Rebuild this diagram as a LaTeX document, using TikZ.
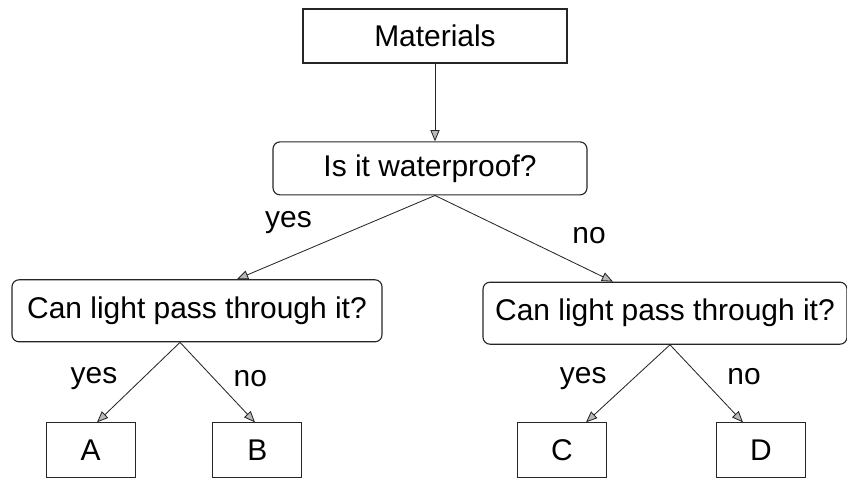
\documentclass[tikz,border=0pt]{standalone}
\usepackage{fontspec}
\setmainfont{Liberation Sans}
\usepackage{tikz}
\usetikzlibrary{arrows.meta,positioning}

\begin{document}
\begin{tikzpicture}[
    box/.style={draw=black!85, line width=0.8pt, inner sep=0pt, align=center,
        font=\fontsize{21.3}{25}\selectfont},
    question/.style={box, rounded corners=5pt, minimum height=1.55cm},
    leaf/.style={box, minimum width=2.225cm, minimum height=1.375cm},
    lbl/.style={inner sep=0pt, text=black, font=\fontsize{21.3}{25}\selectfont},
    arr/.style={->, >={Triangle[length=8pt, width=6.5pt, fill=gray!55]}, line width=0.6pt, color=black!85}]

    \useasboundingbox (0,0) rectangle (21.175,-12);

    % Boxes
    \node[box, minimum width=6.6cm, minimum height=1.35cm] (mat) at (10.875,-0.9) {Materials};
    \node[question, minimum width=7.85cm, minimum height=1.325cm] (wp) [below of=mat, node distance=3.31cm, xshift=-0.125cm] {Is it waterproof?};
    \node[question, minimum width=9.25cm] (qL) [below of=wp, node distance=3.56cm, xshift=-5.825cm] {Can light pass through it?};
    \node[question, minimum width=9.1cm] (qR) [below of=wp, node distance=3.62cm, xshift=5.875cm] {Can light pass through it?};
    \node[leaf] (A) [below of=qL, node distance=3.49cm, xshift=-2.66cm] {A};
    \node[leaf] (B) [below of=qL, node distance=3.49cm, xshift=1.51cm] {B};
    \node[leaf] (C) [below of=qR, node distance=3.43cm, xshift=-2.575cm] {C};
    \node[leaf] (D) [below of=qR, node distance=3.43cm, xshift=2.4cm] {D};

    % Arrows
    \draw[arr] (mat) -- (mat |- wp.north);
    \path[arr]
        % waterproof?
        ([xshift=.125cm]wp.south) edge node[lbl, pos=.62, anchor=south east, yshift=.325cm] {yes} ([xshift=1cm]qL.north)
        ([xshift=.125cm]wp.south) edge node[lbl, pos=.77, anchor=south west, yshift=.45cm] {no} ([xshift=-1.3cm]qR.north)
        % left question
        ([xshift=-.425cm]qL.south) edge node[lbl, pos=.75, anchor=south east, yshift=.3cm] {yes} ([xshift=.16cm]A.north)
        ([xshift=-.425cm]qL.south) edge node[lbl, pos=.71, anchor=south west, yshift=.3cm] {no} ([xshift=-.06cm]B.north)
        % right question
        ([xshift=.125cm]qR.south) edge node[lbl, pos=.75, anchor=south east, yshift=.325cm] {yes} ([xshift=.6cm]C.north)
        ([xshift=.125cm]qR.south) edge node[lbl, pos=.78, anchor=south west, yshift=.5cm] {no} ([xshift=-.45cm]D.north);

\end{tikzpicture}
\end{document}
